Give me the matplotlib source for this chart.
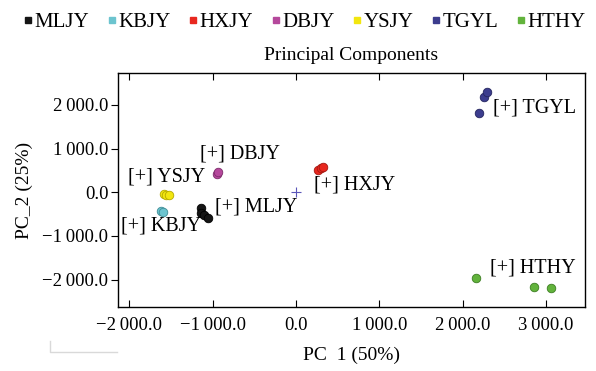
import matplotlib as mpl
mpl.use('Agg')
import matplotlib.pyplot as plt
from matplotlib.ticker import FuncFormatter, FixedLocator
from matplotlib.lines import Line2D

# group names and colours
groups = ['MLJY', 'KBJY', 'HXJY', 'DBJY', 'YSJY', 'TGYL', 'HTHY']
colors = ['#151515', '#6cc4cf', '#e8281f', '#b5489c', '#f2e60f', '#3c3d8e', '#62b33c']
edges = ['#000000', '#3f8d96', '#a41812', '#7d2c6b', '#b5a800', '#23245e', '#3c7d22']

# sample scores (PC1, PC2)
pc1 = {
    'MLJY': [-1140, -1135, -1100, -1055],
    'KBJY': [-1620, -1600],
    'HXJY': [265, 300, 320],
    'DBJY': [-950, -940],
    'YSJY': [-1590, -1560, -1525],
    'TGYL': [2197, 2261, 2289],
    'HTHY': [2157, 2857, 3057],
}
pc2 = {
    'MLJY': [-370, -470, -520, -585],
    'KBJY': [-420, -455],
    'HXJY': [520, 565, 590],
    'DBJY': [425, 470],
    'YSJY': [-30, -55, -70],
    'TGYL': [1808, 2174, 2288],
    'HTHY': [-1968, -2160, -2197],
}

# label anchors (left, centre) for "[+] NAME"
label_x = {'MLJY': -975, 'KBJY': -2095, 'HXJY': 215, 'DBJY': -1155,
           'YSJY': -2020, 'TGYL': 2365, 'HTHY': 2330}
label_y = {'MLJY': -330, 'KBJY': -765, 'HXJY': 165, 'DBJY': 875,
           'YSJY': 355, 'TGYL': 1930, 'HTHY': -1730}

xticks = [-2000, -1000, 0, 1000, 2000, 3000]
yticks = [-2000, -1000, 0, 1000, 2000]

plt.rcParams['font.family'] = ['Liberation Serif', 'DejaVu Serif']

fig = plt.figure(figsize=(5.96, 3.71), dpi=100)
ax = fig.add_axes([118/596, 1 - 307/371, (585 - 118)/596, (307 - 73)/371])

for g, c, e in zip(groups, colors, edges):
    ax.scatter(pc1[g], pc2[g], s=38, color=c, edgecolors=e, linewidths=0.6, zorder=3)
    ax.text(label_x[g], label_y[g], '[+] ' + g, fontsize=14.5, va='center', ha='left')

# centre marker
ax.plot([0], [0], marker='+', color='#5a55b8', markersize=7, mew=0.8)

ax.set_xlim(-2137, 3470)
ax.set_ylim(-2625, 2730)


def fmt(v, pos):
    s = '{:,.1f}'.format(abs(v)).replace(',', '\u2009')
    return ('\u2212' if v < 0 else '') + s


ax.xaxis.set_major_locator(FixedLocator(xticks))
ax.yaxis.set_major_locator(FixedLocator(yticks))
ax.xaxis.set_major_formatter(FuncFormatter(fmt))
ax.yaxis.set_major_formatter(FuncFormatter(fmt))
ax.tick_params(axis='x', direction='in', top=True, length=5, width=0.8, labelsize=13.5, pad=7)
ax.tick_params(axis='y', direction='out', length=5, width=0.8, labelsize=13.5, pad=2)
for sp in ax.spines.values():
    sp.set_linewidth(1.0)

ax.set_xlabel('PC  1 (50%)', fontsize=14, labelpad=9)
ax.set_ylabel('PC_2 (25%)', fontsize=14, labelpad=7)
ax.set_title('Principal Components', fontsize=14, pad=9)

handles = [Line2D([], [], marker='s', linestyle='none', color=c, markersize=4.5) for c in colors]
fig.legend(handles, groups, loc='center', bbox_to_anchor=(305/596, 1 - 22/371), ncol=7,
           frameon=False, fontsize=15, handlelength=0.35, handletextpad=0.15,
           columnspacing=0.9, borderaxespad=0, borderpad=0)

# faint corner mark at bottom left
fig.add_artist(Line2D([50/596, 50/596, 117/596], [1 - 341/371, 1 - 352/371, 1 - 352/371],
                      color='#d9d9d9', lw=1))

fig.savefig('out.png', dpi=100)
